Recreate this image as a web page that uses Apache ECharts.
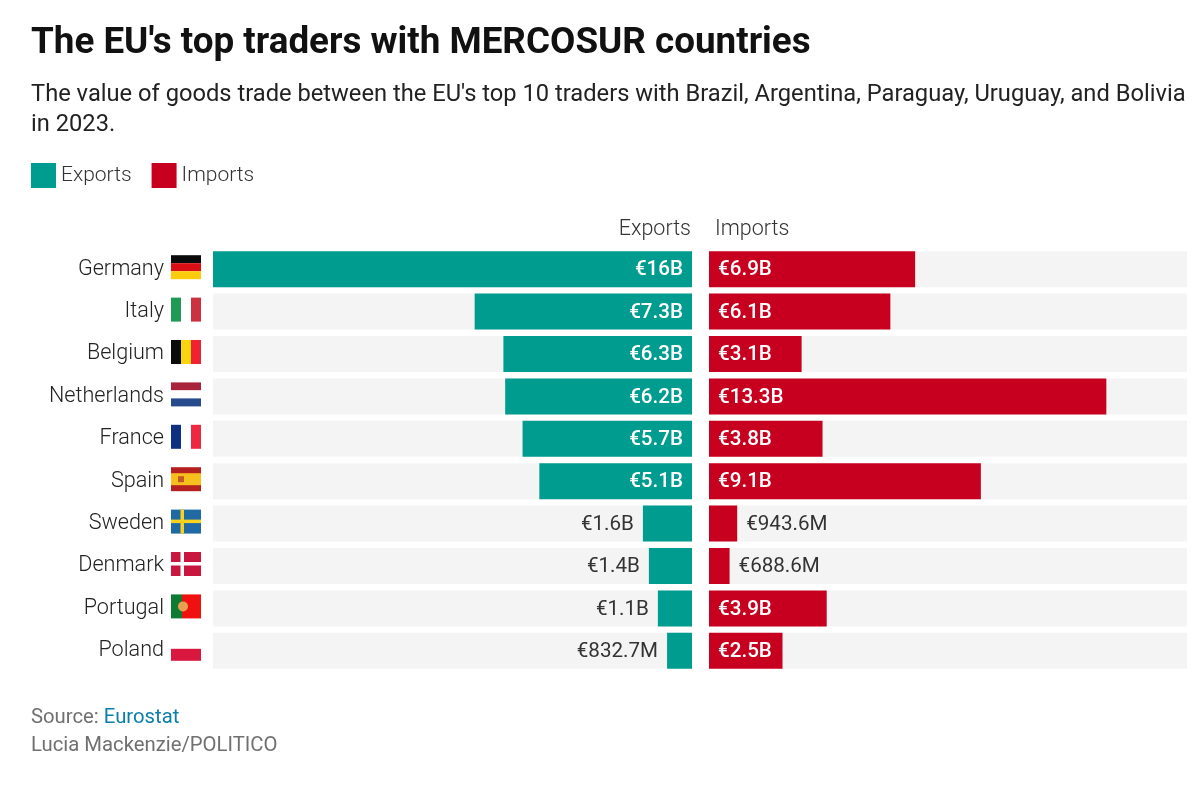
<!DOCTYPE html>
<html><head><meta charset="utf-8">
<style>html,body{margin:0;padding:0;background:#fff}#c{width:1200px;height:791px}</style>
<script src="https://cdn.jsdelivr.net/npm/echarts@6/dist/echarts.min.js"></script>
</head><body><div id="c"></div>
<script>
const countries = ['Germany','Italy','Belgium','Netherlands','France','Spain','Sweden','Denmark','Portugal','Poland'];
const exportsB = [16,7.26,6.3,6.24,5.66,5.1,1.64,1.44,1.14,0.8327];
const importsB = [6.9,6.07,3.1,13.3,3.8,9.1,0.9436,0.6886,3.94,2.46];
const flags = [
 {dir:'h',c:['#0b0b0b','#d80f14','#fdcb0e']},
 {dir:'v',c:['#1f9a55','#ffffff','#cc3140']},
 {dir:'v',c:['#0b0b0b','#fbd50f','#ee2233']},
 {dir:'h',c:['#a8243a','#ffffff','#274a8c']},
 {dir:'v',c:['#0f2f80','#ffffff','#ee2840']},
 {dir:'s',c:['#b3201f','#f7bf1e','#b3201f']},
 {dir:'cross',c:['#1f6aa5','#f8d21c']},
 {dir:'cross',c:['#c8163f','#ffffff']},
 {dir:'p',c:['#0f7a32','#f01010','#e8a050']},
 {dir:'h',c:['#ffffff','#d9173f']}
];
const GREEN='#009c8f', RED='#c8001f', BG='#f4f4f4', TXT='#333333';
const FONT='Roboto, sans-serif';
const fmt = v => v>=1 ? '€'+(Math.round(v*10)/10)+'B' : '€'+(v*1000).toFixed(1)+'M';
const inside = 2;
const mk = (arr,inPos,outPos) => arr.map(v=>({value:v,label:{
  position: v>=inside?inPos:outPos,
  color: v>=inside?'#fff':TXT,
  fontWeight: v>=inside?500:400
}}));
function flagItem(params,api){
  const i=params.dataIndex, f=flags[i];
  const mid=api.coord([0,i])[1]-2;
  const x=171,w=30,h=24,y=mid-h/2, ch=[];
  const r=(a,b,c,d,fill)=>ch.push({type:'rect',shape:{x:a,y:b,width:c,height:d},style:{fill}});
  if(f.dir==='h'){const n=f.c.length;f.c.forEach((c,k)=>r(x,y+k*h/n,w,h/n,c));}
  else if(f.dir==='v'){f.c.forEach((c,k)=>r(x+k*w/3,y,w/3,h,c));}
  else if(f.dir==='s'){r(x,y,w,h,f.c[0]);r(x,y+h/4,w,h/2,f.c[1]);r(x+7,y+9,6,6,'#c05a20');}
  else if(f.dir==='cross'){r(x,y,w,h,f.c[0]);r(x+9.5,y,3.5,h,f.c[1]);r(x,y+10,w,3.5,f.c[1]);}
  else if(f.dir==='p'){r(x,y,11,h,f.c[0]);r(x+11,y,19,h,f.c[1]);
    ch.push({type:'circle',shape:{cx:x+12,cy:y+12,r:5},style:{fill:f.c[2]}});}
  return {type:'group',children:ch};
}
const chart=echarts.init(document.getElementById('c'),null,{renderer:'canvas'});
const catAxis=(g,show)=>({type:'category',gridIndex:g,data:countries,inverse:true,
  axisLine:{show:false},axisTick:{show:false},
  axisLabel:{show,margin:49,padding:[2,0,0,0],fontFamily:FONT,fontSize:21.6,fontWeight:300,color:'#222'}});
const valAxis=(g,inv)=>({type:'value',gridIndex:g,min:0,max:16,inverse:inv,show:false});
chart.setOption({
  animation:false,backgroundColor:'#fff',
  title:{left:31,top:25,text:"The EU's top traders with MERCOSUR countries",
    textStyle:{fontFamily:FONT,fontSize:36.8,fontWeight:700,color:'#111'},
    subtext:"The value of goods trade between the EU's top 10 traders with Brazil, Argentina, Paraguay, Uruguay, and Bolivia\nin 2023.",
    subtextStyle:{fontFamily:FONT,fontSize:23.7,color:'#222',lineHeight:30},itemGap:18.5,padding:0},
  legend:{left:31,top:163,padding:0,itemWidth:25,itemHeight:25,itemGap:20,icon:'rect',
    data:['Exports','Imports'],textStyle:{fontFamily:FONT,fontSize:21,fontWeight:300,color:'#333'}},
  grid:[{left:213,width:479,top:248,height:424},{left:709,width:478,top:248,height:424}],
  xAxis:[valAxis(0,true),valAxis(1,false)],
  yAxis:[catAxis(0,true),catAxis(1,false)],
  graphic:[
    {type:'text',right:509,top:219,style:{text:'Exports',fontFamily:FONT,fontSize:21.5,fontWeight:300,fill:'#333'}},
    {type:'text',left:715,top:219,style:{text:'Imports',fontFamily:FONT,fontSize:21.5,fontWeight:300,fill:'#333'}},
    {type:'text',left:31,top:708,style:{
      text:'{a|Source: }{b|Eurostat}\n{a|Lucia Mackenzie/POLITICO}',
      rich:{a:{fontFamily:FONT,fontSize:20.3,fill:'#707070',lineHeight:28},b:{fontFamily:FONT,fontSize:20.3,fill:'#0b7fab',lineHeight:28}}}}
  ],
  series:[
    {name:'Exports',type:'bar',xAxisIndex:0,yAxisIndex:0,barWidth:36,data:mk(exportsB,'insideRight','left'),
     itemStyle:{color:GREEN},showBackground:true,backgroundStyle:{color:BG},
     label:{show:true,distance:9,offset:[0,1],fontFamily:FONT,fontSize:20.6,formatter:p=>fmt(p.value)}},
    {name:'Imports',type:'bar',xAxisIndex:1,yAxisIndex:1,barWidth:36,data:mk(importsB,'insideLeft','right'),
     itemStyle:{color:RED},showBackground:true,backgroundStyle:{color:BG},
     label:{show:true,distance:9,offset:[0,1],fontFamily:FONT,fontSize:20.6,formatter:p=>fmt(p.value)}},
    {type:'custom',xAxisIndex:0,yAxisIndex:0,clip:false,silent:true,tooltip:{show:false},
     data:countries.map((c,i)=>[0,i]),encode:{x:0,y:1},renderItem:flagItem,legendHoverLink:false}
  ]
});
</script></body></html>
